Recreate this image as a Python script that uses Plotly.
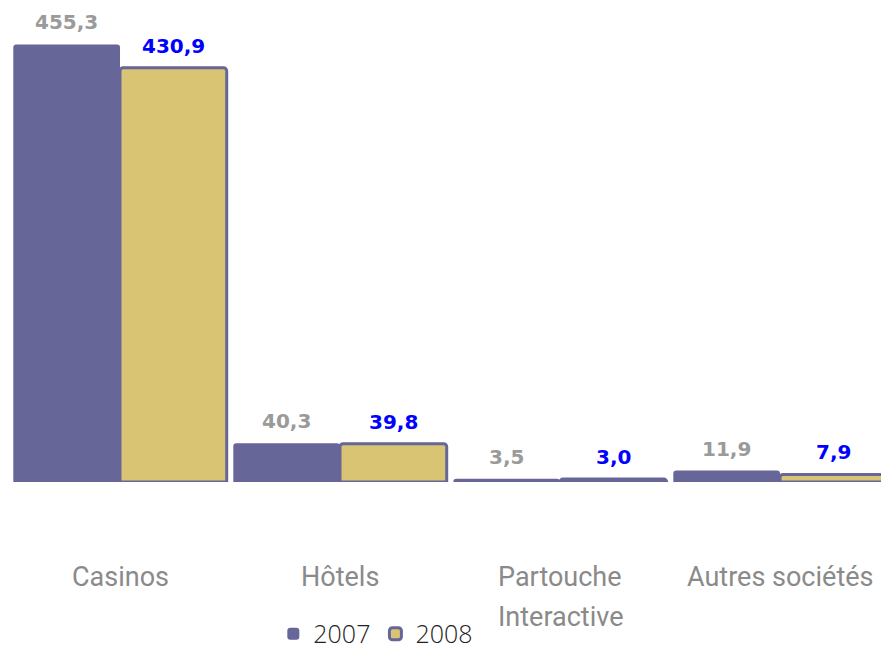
import plotly.graph_objects as go

categories = ["Casinos", "Hôtels", "Partouche<br>Interactive", "Autres sociétés"]
values_2007 = [455.3, 40.3, 3.5, 11.9]
values_2008 = [430.9, 39.8, 3.0, 7.9]
series_names = ["2007", "2008"]

PURPLE = "#666699"
GOLD = "#D9C474"

x_idx = list(range(len(categories)))
BAR_OFFSET = 0.2425  # half of a bar slot within the group

fig = go.Figure()
fig.add_trace(go.Bar(
    x=x_idx, y=values_2007, name=series_names[0],
    marker=dict(color=PURPLE, line=dict(color=PURPLE, width=0), cornerradius=3),
))
fig.add_trace(go.Bar(
    x=x_idx, y=values_2008, name=series_names[1],
    marker=dict(color=GOLD, line=dict(color=PURPLE, width=3), cornerradius=3),
))

annotations = []
for vals, col, sign in [(values_2007, "#9A9A9A", -1), (values_2008, "#0000FF", 1)]:
    for i, v in enumerate(vals):
        annotations.append(dict(
            x=i + sign * BAR_OFFSET, xref="x", y=v, yref="y",
            text=f"{v:.1f}".replace(".", ","), showarrow=False,
            xanchor="center", yanchor="bottom", yshift=8,
            font=dict(family="DejaVu Sans", size=20, color=col, weight="bold"),
        ))

PLOT_H = 482
for i, lab in enumerate(categories):
    for j, line in enumerate(lab.split("<br>")):
        annotations.append(dict(
            x=i, xref="x", y=-(95 + 40 * j) / PLOT_H, yref="paper",
            text=line, showarrow=False, xanchor="center", yanchor="middle",
            font=dict(family="Roboto", size=27, color="#8A8A8A"),
        ))

fig.update_layout(
    width=881, height=658,
    margin=dict(l=10, r=0, t=0, b=176, autoexpand=False),
    plot_bgcolor="white", paper_bgcolor="white",
    barmode="group", bargap=0.03, bargroupgap=0,
    xaxis=dict(range=[-0.5, 3.459], showticklabels=False, showgrid=False,
               zeroline=False, showline=False, ticks=""),
    yaxis=dict(range=[0, 501.5], visible=False),
    showlegend=True,
    legend=dict(orientation="h", x=0.42, xanchor="center", y=-0.363, yanchor="bottom",
                font=dict(family="Open Sans", size=25, color="#222222", weight=300),
                itemwidth=30, tracegroupgap=0, bgcolor="rgba(0,0,0,0)"),
    annotations=annotations,
)

fig.write_html("out.html", config={"displayModeBar": False},
               post_script="document.body.style.margin='0px';")
